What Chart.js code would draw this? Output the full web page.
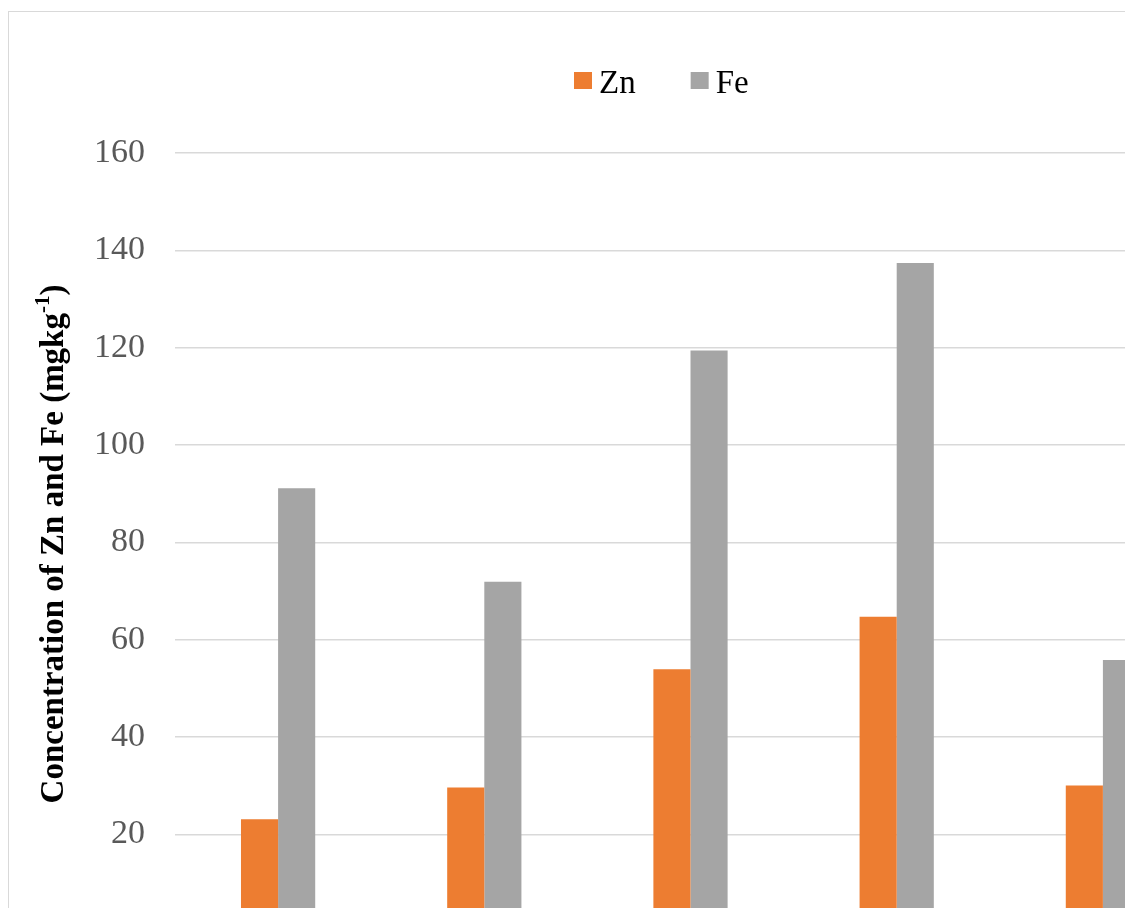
<!DOCTYPE html>
<html>
<head>
<meta charset="utf-8">
<script src="https://cdn.jsdelivr.net/npm/chart.js@4.4.1/dist/chart.umd.min.js"></script>
<style>
  html, body { margin: 0; padding: 0; background: #fff; overflow: hidden; width: 1125px; height: 908px; }
  #frame { position: absolute; left: 8px; top: 11px; width: 1400px; height: 1100px; border: 1.5px solid #d9d9d9; box-sizing: border-box; }
  #wrap { position: absolute; left: 0; top: 0; width: 1206px; height: 982px; }
</style>
</head>
<body>
<div id="frame"></div>
<div id="wrap"><canvas id="chart" width="1206" height="982"></canvas></div>
<script>
// Sampling sites and measured concentrations (mg/kg)
const categories = ['T1', 'T2', 'T3', 'T4', 'T5'];
const seriesNames = ['Zn', 'Fe'];
const znValues = [23.1, 29.6, 53.9, 64.7, 30.0];
const feValues = [91.1, 71.9, 119.4, 137.4, 55.8];
const yTicks = [0, 20, 40, 60, 80, 100, 120, 140, 160];
const seriesColors = ['#ED7D31', '#A5A5A5'];

const yTitleMain = 'Concentration of Zn and Fe (mgkg';
const yTitleSup = '-1';
const yTitleEnd = ')';

const SERIF = '"Liberation Serif", "Times New Roman", serif';

// Rotated axis title with a superscript, plus a compact legend row
const annotations = {
  id: 'annotations',
  afterDraw(chart) {
    const ctx = chart.ctx;
    ctx.save();
    ctx.fillStyle = '#000';
    ctx.textBaseline = 'alphabetic';
    ctx.textAlign = 'left';

    // y-axis title
    ctx.save();
    ctx.translate(63, 544);
    ctx.rotate(-Math.PI / 2);
    const bigFont = 'bold 33px ' + SERIF;
    const supFont = 'bold 21px ' + SERIF;
    ctx.font = bigFont; const w1 = ctx.measureText(yTitleMain).width;
    ctx.font = supFont; const w2 = ctx.measureText(yTitleSup).width;
    ctx.font = bigFont; const w3 = ctx.measureText(yTitleEnd).width;
    let x = -(w1 + w2 + w3) / 2;
    ctx.font = bigFont; ctx.fillText(yTitleMain, x, 0);
    ctx.font = supFont; ctx.fillText(yTitleSup, x + w1, -14);
    ctx.font = bigFont; ctx.fillText(yTitleEnd, x + w1 + w2, 0);
    ctx.restore();

    // legend
    ctx.font = '33px ' + SERIF;
    let lx = 574;
    chart.data.datasets.forEach(ds => {
      ctx.fillStyle = ds.backgroundColor;
      ctx.fillRect(lx, 72, 18, 17);
      ctx.fillStyle = '#000';
      ctx.fillText(ds.label, lx + 25, 93);
      lx += 25 + ctx.measureText(ds.label).width + 55;
    });
    ctx.restore();
  }
};

new Chart(document.getElementById('chart'), {
  type: 'bar',
  data: {
    labels: categories,
    datasets: [
      { label: seriesNames[0], data: znValues, backgroundColor: seriesColors[0] },
      { label: seriesNames[1], data: feValues, backgroundColor: seriesColors[1] }
    ]
  },
  options: {
    responsive: false,
    animation: false,
    devicePixelRatio: 1,
    layout: { padding: { top: 153, right: 0, bottom: 20, left: 0 } },
    datasets: { bar: { categoryPercentage: 0.36, barPercentage: 1.0 } },
    plugins: { legend: { display: false }, tooltip: { enabled: false } },
    scales: {
      x: { display: false },
      y: {
        min: yTicks[0],
        max: yTicks[yTicks.length - 1],
        afterBuildTicks(scale) { scale.ticks = yTicks.map(v => ({ value: v })); },
        afterFit(scale) { scale.width = 175; },
        border: { display: false },
        grid: { color: '#d9d9d9', lineWidth: 1.5, drawTicks: false },
        ticks: { color: '#595959', padding: 30, font: { family: SERIF, size: 34 } }
      }
    }
  },
  plugins: [annotations]
});
</script>
</body>
</html>
